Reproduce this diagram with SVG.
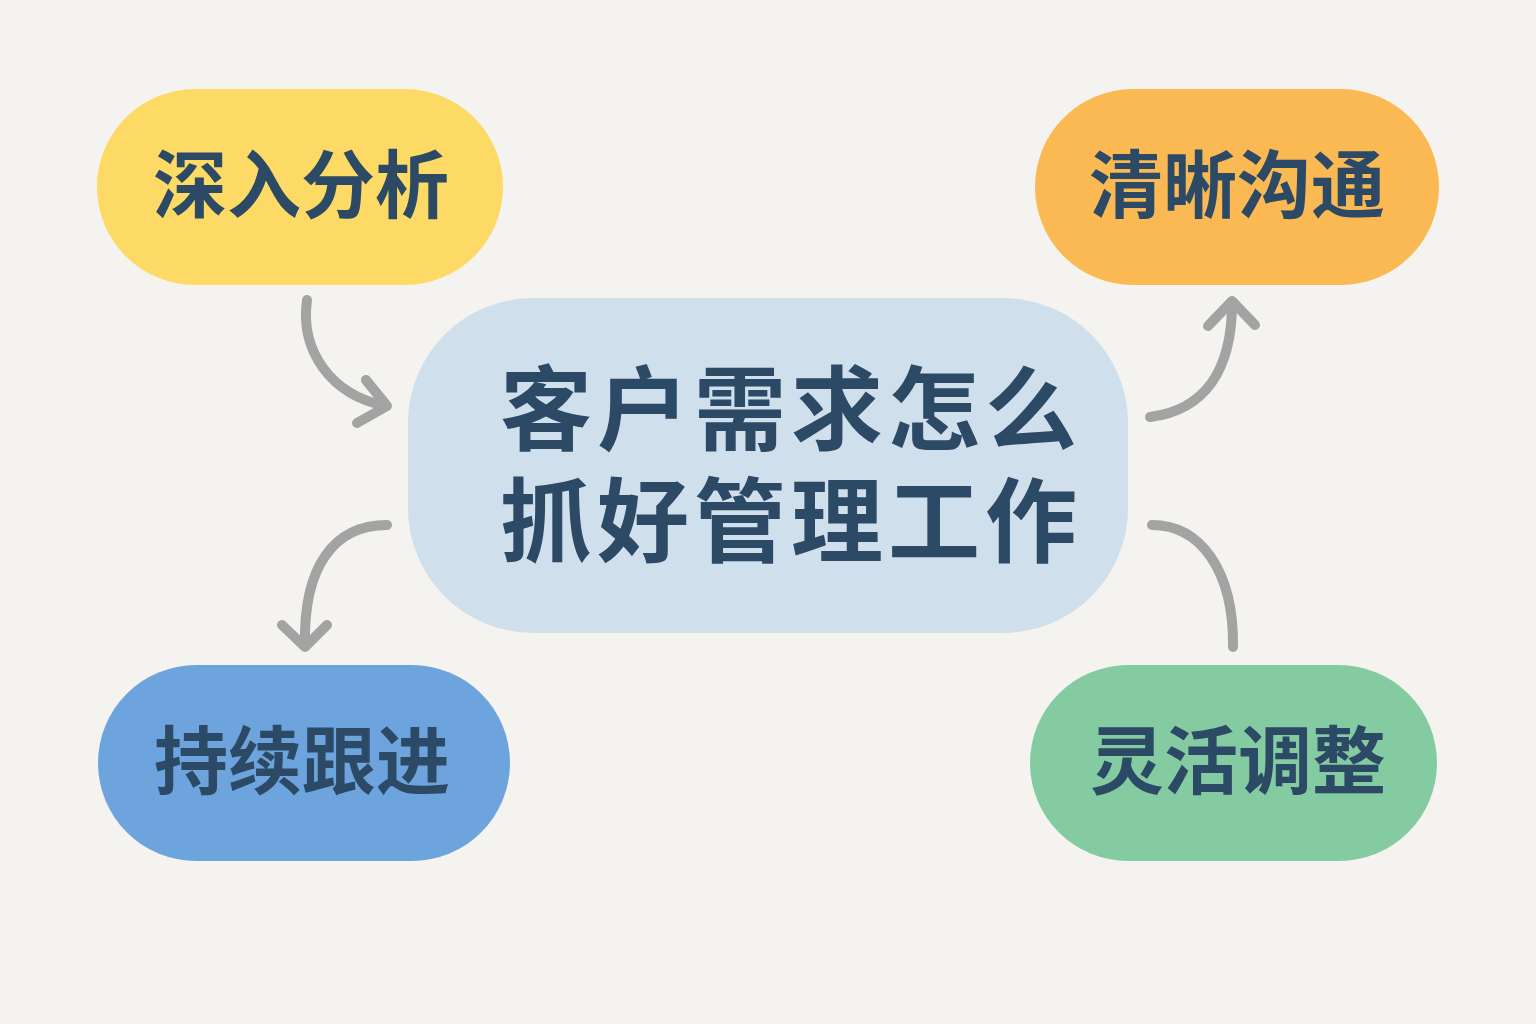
<svg xmlns="http://www.w3.org/2000/svg" width="1536" height="1024" viewBox="0 0 1536 1024">
<style>
.lbl{font-family:"Noto Sans CJK SC","Noto Sans",sans-serif;font-weight:700;fill:#2c4a66;text-anchor:middle;dominant-baseline:central}
.sm{font-size:74px}
.big{font-size:92px;letter-spacing:5px}
.con{fill:none;stroke:#a3a3a3;stroke-width:10;stroke-linecap:round;stroke-linejoin:round}
</style>
<rect width="1536" height="1024" fill="#f5f3ef"/>
<g id="connectors">
<path class="con" d="M307,300 C300,350 330,395 386,406"/>
<path class="con" d="M366,380 L387,406 L357,423"/>
<path class="con" d="M1150,417 C1205,410 1232,370 1232,303"/>
<path class="con" d="M1208,326 L1232,301 L1255,325"/>
<path class="con" d="M387,525 C335,525 303,565 305,646"/>
<path class="con" d="M282,625 L305,647 L327,625"/>
<path class="con" d="M1152,525 C1200,525 1234,570 1233,647"/>
</g>
<g id="center">
<rect x="408" y="298" width="720" height="335" rx="125" fill="#cfe0ec"/>
<text class="lbl big"><tspan x="791" y="402">客户需求怎么</tspan><tspan x="791" y="514">抓好管理工作</tspan></text>
</g>
<g id="node-analyze">
<rect x="97" y="89" width="406" height="196" rx="98" fill="#fdd965"/>
<text class="lbl sm" x="301" y="179">深入分析</text>
</g>
<g id="node-communicate">
<rect x="1035" y="89" width="404" height="196" rx="98" fill="#fbb954"/>
<text class="lbl sm" x="1237" y="179">清晰沟通</text>
</g>
<g id="node-follow">
<rect x="98" y="665" width="412" height="196" rx="98" fill="#6ea4dd"/>
<text class="lbl sm" x="302" y="755">持续跟进</text>
</g>
<g id="node-adjust">
<rect x="1030" y="665" width="407" height="196" rx="98" fill="#84cba1"/>
<text class="lbl sm" x="1238" y="755">灵活调整</text>
</g>
</svg>
